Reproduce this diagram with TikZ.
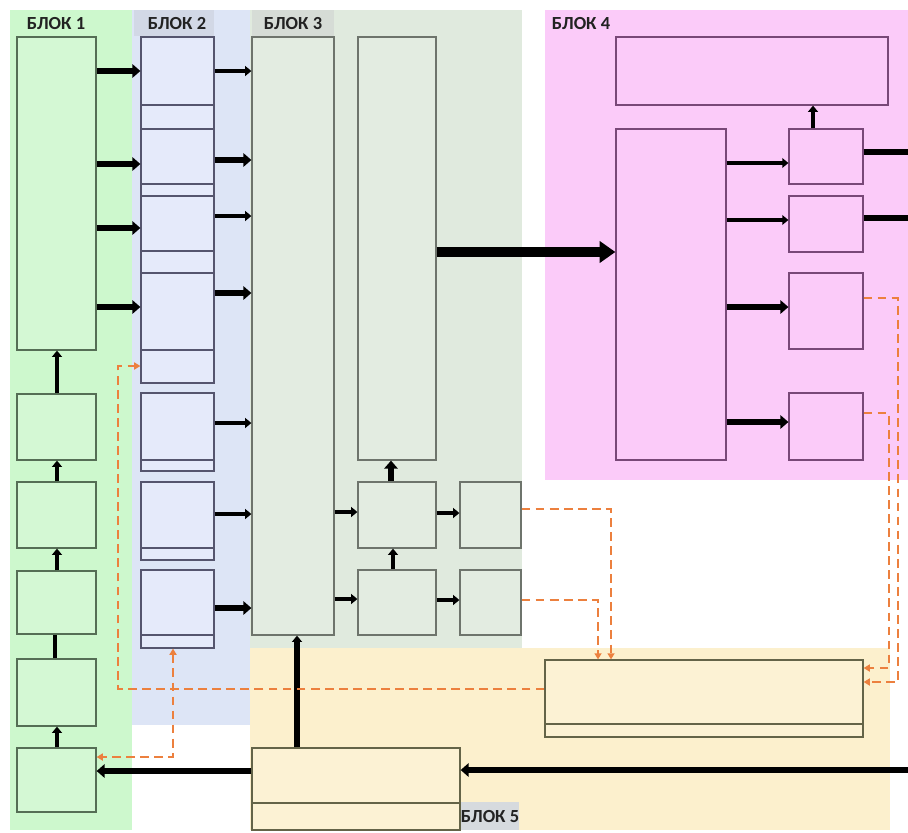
\documentclass[tikz,border=0pt]{standalone}
\usepackage{fontspec}
\setmainfont{Carlito}
\usetikzlibrary{arrows.meta,fit}
\definecolor{gbg}{RGB}{205,248,205}
\definecolor{gfill}{RGB}{212,248,212}
\definecolor{gline}{RGB}{85,110,85}
\definecolor{bbg}{RGB}{221,229,246}
\definecolor{bfill}{RGB}{229,234,250}
\definecolor{bline}{RGB}{85,85,110}
\definecolor{blab}{RGB}{210,216,230}
\definecolor{tbg}{RGB}{224,234,222}
\definecolor{tfill}{RGB}{227,236,225}
\definecolor{tline}{RGB}{110,116,108}
\definecolor{tlab}{RGB}{214,220,214}
\definecolor{pbg}{RGB}{251,203,249}
\definecolor{pline}{RGB}{120,72,120}
\definecolor{ybg}{RGB}{252,240,205}
\definecolor{yfill}{RGB}{252,242,212}
\definecolor{yline}{RGB}{100,100,72}
\definecolor{ylab}{RGB}{214,218,222}
\definecolor{orangec}{RGB}{236,128,62}
\definecolor{labtext}{RGB}{34,34,34}
\begin{document}
\begin{tikzpicture}[x=0.02cm,y=-0.02cm,
  boxbase/.style={inner sep=0pt, line width=0.7pt},
  gbox/.style={boxbase, draw=gline, fill=gfill},
  bbox/.style={boxbase, draw=bline, fill=bfill},
  tbox/.style={boxbase, draw=tline, fill=tfill},
  pbox/.style={boxbase, draw=pline, fill=pbg},
  ybox/.style={boxbase, draw=yline, fill=yfill},
  blocklabel/.style={font=\bfseries\fontsize{10.5}{12}\selectfont, text=labtext, inner sep=0pt},
  arrT/.style={line width=3.8pt, -{Triangle[length=4.5pt,width=7.5pt]}},
  arrM/.style={line width=2.7pt, -{Triangle[length=3.5pt,width=5.5pt]}},
  arrXL/.style={line width=6pt, -{Triangle[length=9pt,width=12pt]}},
  plainT/.style={line width=3.8pt},
  plainM/.style={line width=2.7pt},
  dsh/.style={draw=orangec, line width=1.4pt, dash pattern=on 5pt off 3pt, -{Triangle[length=3.5pt,width=4pt]}},
  dshboth/.style={dsh, {Triangle[length=3.5pt,width=4pt]}-{Triangle[length=3.5pt,width=4pt]}}
]
\useasboundingbox (0,0) rectangle (908,832);
% block backgrounds
\fill[gbg] (10,10) rectangle (132,830);
\fill[bbg] (132,10) rectangle (250,725);
\fill[tbg] (250,10) rectangle (522,648);
\fill[pbg] (545,10) rectangle (908,480);
\fill[ybg] (250,648) rectangle (890,830);
\fill[blab] (134,10) rectangle (214,36);
\fill[tlab] (252,10) rectangle (334,36);
\fill[ylab] (461,802) rectangle (519,830);
% labels
\node[blocklabel] (L1) at (56,24) {БЛОК 1};
\node[blocklabel] (L2) at (177,24) {БЛОК 2};
\node[blocklabel] (L3) at (293,24) {БЛОК 3};
\node[blocklabel] (L4) at (581,24) {БЛОК 4};
\node[blocklabel] (L5) at (490,816) {БЛОК 5};
% block 1
\node[gbox, fit={(17,37)(96,350)}] (B1) {};
\node[gbox, fit={(17,394)(96,460)}] (b1a) {};
\node[gbox, fit={(17,482)(96,548)}] (b1b) {};
\node[gbox, fit={(17,571)(96,634)}] (b1c) {};
\node[gbox, fit={(17,659)(96,726)}] (b1d) {};
\node[gbox, fit={(17,748)(96,812)}] (b1e) {};
% block 2
\node[bbox, fit={(141,37)(214,129)}] (b2a) {};
\node[bbox, fit={(141,129)(214,196)}] (b2b) {};
\node[bbox, fit={(141,196)(214,273)}] (b2c) {};
\node[bbox, fit={(141,273)(214,383)}] (b2d) {};
\node[bbox, fit={(141,393)(214,471)}] (b2e) {};
\node[bbox, fit={(141,482)(214,560)}] (b2f) {};
\node[bbox, fit={(141,570)(214,648)}] (b2g) {};
\foreach \n/\yy in {b2a/105,b2b/184,b2c/251,b2d/350,b2e/460,b2f/548,b2g/635}
  \draw[draw=bline, line width=0.7pt] (\n.west |- 0,\yy) -- (\n.east |- 0,\yy);
% block 3
\node[tbox, fit={(252,37)(334,635)}] (B3) {};
\node[tbox, fit={(358,37)(436,460)}] (B3b) {};
\node[tbox, fit={(358,482)(436,548)}] (c1) {};
\node[tbox, fit={(460,482)(521,548)}] (c2) {};
\node[tbox, fit={(358,570)(436,635)}] (c3) {};
\node[tbox, fit={(460,570)(521,635)}] (c4) {};
% block 4
\node[pbox, fit={(616,37)(888,105)}] (tb) {};
\node[pbox, fit={(616,129)(726,460)}] (d) {};
\node[pbox, fit={(789,129)(863,184)}] (d1) {};
\node[pbox, fit={(789,196)(863,252)}] (d2) {};
\node[pbox, fit={(789,273)(863,349)}] (d3) {};
\node[pbox, fit={(789,393)(863,460)}] (d4) {};
% block 5
\node[ybox, fit={(545,660)(863,737)}] (e1) {};
\node[ybox, fit={(252,748)(460,830)}] (e2) {};
\draw[draw=yline, line width=0.7pt] (e1.west |- 0,724) -- (e1.east |- 0,724);
\draw[draw=yline, line width=0.7pt] (e2.west |- 0,803) -- (e2.east |- 0,803);
% free ends
\coordinate (o1) at (908,152);
\coordinate (o2) at (908,218);
\coordinate (i1) at (908,770);
% block 1 arrows
\draw[arrT] (B1.east |- 0,71) -- (b2a.west |- 0,71);
\draw[arrT] (B1.east |- 0,164) -- (b2b.west |- 0,164);
\draw[arrT] (B1.east |- 0,228) -- (b2c.west |- 0,228);
\draw[arrT] (B1.east |- 0,307) -- (b2d.west |- 0,307);
\draw[arrM] (b1a.north -| 57,0) -- (B1.south -| 57,0);
\draw[arrM] (b1b.north -| 57,0) -- (b1a.south -| 57,0);
\draw[arrM] (b1c.north -| 57,0) -- (b1b.south -| 57,0);
\draw[plainM] (b1d.north -| 55,0) -- (b1c.south -| 55,0);
\draw[arrM] (b1e.north -| 57,0) -- (b1d.south -| 57,0);
% block 2 -> block 3
\draw[arrM] (b2a.east |- 0,71) -- (B3.west |- 0,71);
\draw[arrT] (b2b.east |- 0,160) -- (B3.west |- 0,160);
\draw[arrM] (b2c.east |- 0,216) -- (B3.west |- 0,216);
\draw[arrT] (b2d.east |- 0,293) -- (B3.west |- 0,293);
\draw[arrM] (b2e.east |- 0,423) -- (B3.west |- 0,423);
\draw[arrM] (b2f.east |- 0,514) -- (B3.west |- 0,514);
\draw[arrT] (b2g.east |- 0,608) -- (B3.west |- 0,608);
% block 3 internal
\draw[arrM] (B3.east |- 0,512) -- (c1.west |- 0,512);
\draw[arrM] (B3.east |- 0,599) -- (c3.west |- 0,599);
\draw[arrM] (c1.east |- 0,513) -- (c2.west |- 0,513);
\draw[arrM] (c3.east |- 0,600) -- (c4.west |- 0,600);
\draw[arrM] (c3.north -| 393,0) -- (c1.south -| 393,0);
\draw[arrT] (c1.north -| 391,0) -- (B3b.south -| 391,0);
\draw[arrXL] (B3b.east |- 0,252) -- (d.west |- 0,252);
% block 4
\draw[arrM] (d.east |- 0,163) -- (d1.west |- 0,163);
\draw[arrM] (d.east |- 0,220) -- (d2.west |- 0,220);
\draw[arrT] (d.east |- 0,307) -- (d3.west |- 0,307);
\draw[arrT] (d.east |- 0,422) -- (d4.west |- 0,422);
\draw[arrM] (d1.north -| 813,0) -- (tb.south -| 813,0);
\draw[plainT] (d1.east |- o1) -- (o1);
\draw[plainT] (d2.east |- o2) -- (o2);
% block 5
\draw[arrM, line width=3.2pt] (e2.north -| 297,0) -- (B3.south -| 297,0);
\draw[arrT] (e2.west |- 0,771) -- (b1e.east |- 0,771);
\draw[arrT] (i1) -- (e2.east |- i1);
% dashed feedback connectors
\draw[dsh] (d3.east |- 0,298) -- (898,298) -- (898,682) -- (e1.east |- 0,682);
\draw[dsh] (d4.east |- 0,413) -- (889,413) -- (889,668) -- (e1.east |- 0,668);
\draw[dsh] (c2.east |- 0,509) -- (611,509) -- (e1.north -| 611,0);
\draw[dsh] (c4.east |- 0,600) -- (598,600) -- (e1.north -| 598,0);
\draw[dsh] (e1.west |- 0,689) -- (118,689) -- (118,366) -- (b2d.west |- 0,366);
\draw[dshboth] (b2g.south -| 173,0) -- (173,757) -- (b1e.east |- 0,757);
\end{tikzpicture}
\end{document}
